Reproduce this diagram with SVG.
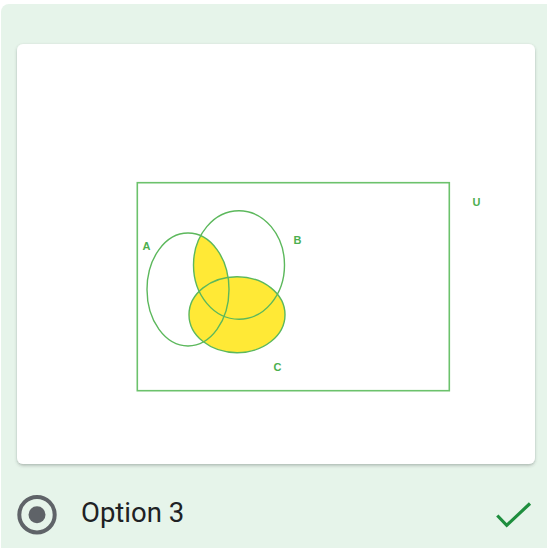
<svg xmlns="http://www.w3.org/2000/svg" width="547" height="548" viewBox="0 0 547 548">
<defs>
<filter id="sh" x="-5%" y="-5%" width="110%" height="110%">
<feDropShadow dx="0" dy="1.5" stdDeviation="1.5" flood-color="#3c4043" flood-opacity="0.35"/>
</filter>
<clipPath id="clipA"><ellipse cx="188" cy="289.5" rx="41" ry="56.5"/></clipPath>
</defs>
<style>
.set{fill:none;stroke:#5cb85c;stroke-width:1.4}
.lbl{font-family:"Liberation Sans",Arial,sans-serif;font-weight:bold;font-size:11px;fill:#4caf50}
</style>
<rect x="1" y="4" width="560" height="560" rx="8" fill="#e6f4ea"/>
<g id="card">
<rect x="17" y="44" width="518" height="420" rx="6" fill="#ffffff" filter="url(#sh)"/>
</g>
<g id="venn">
<rect id="universe" x="137.3" y="182.7" width="312" height="208" fill="none" stroke="#6cc26c" stroke-width="1.6"/>
<ellipse cx="237" cy="314.7" rx="48" ry="38" fill="#ffe936"/>
<ellipse cx="239" cy="265" rx="45.5" ry="54.2" fill="#ffe936" clip-path="url(#clipA)"/>
<ellipse id="setA" class="set" cx="188" cy="289.5" rx="41" ry="56.5"/>
<ellipse id="setB" class="set" cx="239" cy="265" rx="45.5" ry="54.2"/>
<ellipse id="setC" class="set" cx="237" cy="314.7" rx="48" ry="38"/>
<text class="lbl" x="142.5" y="250">A</text>
<text class="lbl" x="293.5" y="244">B</text>
<text class="lbl" x="273.5" y="370.5">C</text>
<text class="lbl" x="472.5" y="205.5">U</text>
</g>
<g id="option">
<circle cx="37" cy="514.7" r="17.7" fill="none" stroke="#5f6368" stroke-width="4"/>
<circle cx="37" cy="514.7" r="8.5" fill="#5f6368"/>
<text x="81" y="522" font-family="Roboto,'Noto Sans',sans-serif" font-size="27.5" fill="#202124">Option 3</text>
<polyline points="497.3,515.5 506.7,525.3 530,503.5" fill="none" stroke="#1e8e3e" stroke-width="3.2"/>
</g>
</svg>
